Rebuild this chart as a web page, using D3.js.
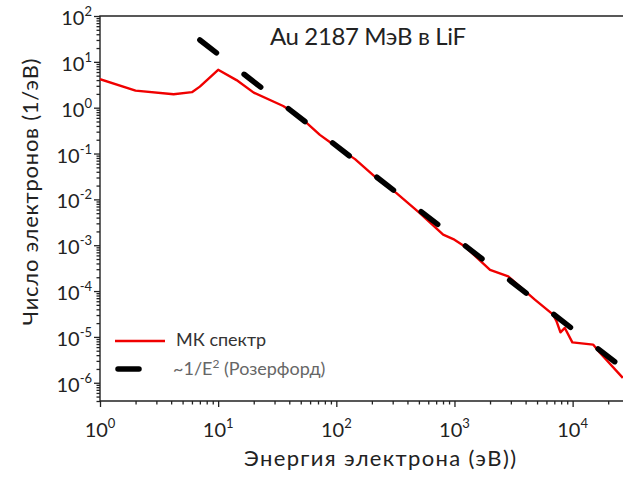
<!DOCTYPE html>
<html>
<head>
<meta charset="utf-8">
<script src="https://cdn.jsdelivr.net/npm/d3@7"></script>
<style>
  body { margin: 0; background: #fff; }
  text { font-family: Lato, "Open Sans", sans-serif; fill: #222; }
</style>
</head>
<body>
<div id="chart"></div>
<script>
// MC spectrum (energy in eV, electrons per eV)
const mcEnergy = [1, 2, 4.2, 6, 7, 10, 14.3, 20, 35.5, 49, 72.6, 91, 144, 219, 323, 509, 802, 977,
  1224, 2000, 2850, 4790, 6840, 7300, 7890, 8590, 9950, 14900, 17000, 26600];
const mcValue = [4.2, 2.36, 1.97, 2.18, 2.88, 6.7, 4.0, 2.13, 1.09, 0.64, 0.255, 0.168, 0.0755, 0.029,
  0.0137, 0.005, 0.0017, 0.00136, 9.4e-4, 2.9e-4, 2.09e-4, 6.5e-5, 3.06e-5, 2.2e-5, 1.26e-5, 1.57e-5,
  7.6e-6, 6.8e-6, 4.5e-6, 1.28e-6];

// ~1/E^2 reference line, end points
const rutherfordEnergy = [7, 30000];
const rutherfordValue = [30, 1.65e-6];

const xTickExp = [0, 1, 2, 3, 4];
const yTickExp = [2, 1, 0, -1, -2, -3, -4, -5, -6];

const legendLabels = ["МК спектр", "~1/E", "2", " (Розерфорд)"];
const title = "Au 2187 МэВ в LiF";
const xLabel = "Энергия электрона (эВ))";
const yLabel = "Число электронов (1/эВ)";

const W = 623, H = 477;
const mLeft = 100, mTop = 16, mRight = 629, mBottom = 401;

const svg = d3.select("#chart").append("svg")
  .attr("width", W).attr("height", H);

const x = d3.scaleLog().domain([1, 3e4]).range([mLeft, mRight]);
const y = d3.scaleLog().domain([4e-7, 100]).range([mBottom, mTop]);

svg.append("defs").append("clipPath").attr("id", "plot")
  .append("rect").attr("x", mLeft).attr("y", mTop)
  .attr("width", W - mLeft).attr("height", mBottom - mTop);

// minor ticks
const xMinor = [];
for (let e = 0; e <= 4; e++) for (let k = 2; k <= 9; k++) if (k * 10 ** e < 3e4) xMinor.push(k * 10 ** e);
const yMinor = [];
for (let e = -7; e <= 1; e++) for (let k = 2; k <= 9; k++) if (k * 10 ** e >= 4e-7) yMinor.push(k * 10 ** e);

const axisColor = "#222";
function styleAxis(g) {
  g.selectAll("path").remove();
  g.selectAll("line").attr("stroke", axisColor).attr("stroke-width", 1.3);
}

svg.append("g").attr("transform", `translate(0,${mBottom})`)
  .call(d3.axisBottom(x).tickValues(xMinor).tickSize(3.5).tickFormat(""))
  .call(styleAxis);
svg.append("g").attr("transform", `translate(0,${mBottom})`)
  .call(d3.axisBottom(x).tickValues(xTickExp.map(e => 10 ** e)).tickSize(6).tickFormat(""))
  .call(styleAxis);
svg.append("g").attr("transform", `translate(${mLeft},0)`)
  .call(d3.axisLeft(y).tickValues(yMinor).tickSize(3.5).tickFormat(""))
  .call(styleAxis);
svg.append("g").attr("transform", `translate(${mLeft},0)`)
  .call(d3.axisLeft(y).tickValues(yTickExp.map(e => 10 ** e)).tickSize(6).tickFormat(""))
  .call(styleAxis);

// frame: left, bottom, top
svg.append("path")
  .attr("d", `M${W},${mTop}H${mLeft}V${mBottom}H${W}`)
  .attr("fill", "none").attr("stroke", axisColor).attr("stroke-width", 1.4);

// tick labels
svg.append("g").selectAll("text").data(xTickExp).join("text")
  .attr("x", d => x(10 ** d)).attr("y", 437)
  .attr("text-anchor", "middle").style("font-size", "20px")
  .call(t => {
    t.append("tspan").text("10");
    t.append("tspan").attr("dy", -9).style("font-size", "13px").text(d => d);
  });

svg.append("g").selectAll("text").data(yTickExp).join("text")
  .attr("x", 92).attr("y", d => y(10 ** d) + 9)
  .attr("text-anchor", "end").style("font-size", "20px")
  .call(t => {
    t.append("tspan").text("10");
    t.append("tspan").attr("dy", -9).style("font-size", "13px").text(d => d);
  });

// axis titles
svg.append("text").attr("x", 380).attr("y", 466)
  .attr("text-anchor", "middle").style("font-size", "22px")
  .attr("textLength", 272).attr("lengthAdjust", "spacing").text(xLabel);
svg.append("text").attr("transform", "translate(38,192) rotate(-90)")
  .attr("text-anchor", "middle").style("font-size", "22px")
  .attr("textLength", 267).attr("lengthAdjust", "spacing").text(yLabel);

svg.append("text").attr("x", 270).attr("y", 45)
  .style("font-size", "24px")
  .attr("textLength", 196).attr("lengthAdjust", "spacing").text(title);

// data lines
const plot = svg.append("g").attr("clip-path", "url(#plot)");
const line = d3.line().x(d => x(d[0])).y(d => y(d[1]));

plot.append("path")
  .datum(mcEnergy.map((e, i) => [e, mcValue[i]]))
  .attr("d", line).attr("fill", "none")
  .attr("stroke", "#f00000").attr("stroke-width", 2.4).attr("stroke-linejoin", "round");

plot.append("path")
  .datum(rutherfordEnergy.map((e, i) => [e, rutherfordValue[i]]))
  .attr("d", line).attr("fill", "none")
  .attr("stroke", "#000").attr("stroke-width", 5.5)
  .attr("stroke-dasharray", "21,35").attr("stroke-linecap", "round");

// legend
svg.append("line").attr("x1", 115).attr("x2", 165).attr("y1", 341).attr("y2", 341)
  .attr("stroke", "#f00000").attr("stroke-width", 2.4);
svg.append("line").attr("x1", 118).attr("x2", 168).attr("y1", 369).attr("y2", 369)
  .attr("stroke", "#000").attr("stroke-width", 5.5)
  .attr("stroke-dasharray", "21,35").attr("stroke-linecap", "round");

svg.append("text").attr("x", 176).attr("y", 346)
  .style("font-size", "18px").style("fill", "#333").text(legendLabels[0]);
svg.append("text").attr("x", 173).attr("y", 375)
  .style("font-size", "18px").style("fill", "#666")
  .call(t => {
    t.append("tspan").text(legendLabels[1]);
    t.append("tspan").attr("dy", -7).style("font-size", "12px").text(legendLabels[2]);
    t.append("tspan").attr("dy", 7).text(legendLabels[3]);
  });
</script>
</body>
</html>
